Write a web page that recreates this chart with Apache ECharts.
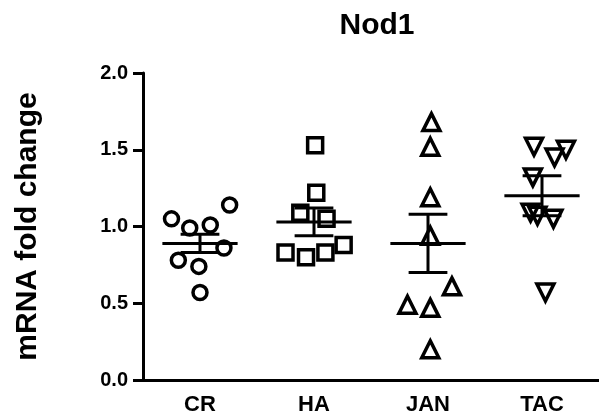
<!DOCTYPE html>
<html>
<head>
<meta charset="utf-8">
<script src="https://cdn.jsdelivr.net/npm/echarts@6/dist/echarts.min.js"></script>
<style>html,body{margin:0;padding:0;background:#fff}#c{width:599px;height:416px}</style>
</head>
<body>
<div id="c"></div>
<script>
var categories = ['CR', 'HA', 'JAN', 'TAC'];
var yTicks = [0.0, 0.5, 1.0, 1.5, 2.0];

var crValues  = [1.14, 1.05, 0.99, 1.01, 0.86, 0.78, 0.74, 0.57];
var crJitter  = [0.26, -0.25, -0.09, 0.09, 0.21, -0.19, -0.01, 0.00];
var haValues  = [1.53, 1.22, 1.09, 1.05, 0.83, 0.80, 0.83, 0.88];
var haJitter  = [0.01, 0.02, -0.12, 0.11, -0.25, -0.07, 0.10, 0.26];
var janValues = [1.68, 1.52, 1.19, 0.94, 0.61, 0.49, 0.47, 0.20];
var janJitter = [0.03, 0.02, 0.02, 0.02, 0.21, -0.18, 0.02, 0.02];
var tacValues = [1.52, 1.50, 1.45, 1.32, 1.09, 1.07, 1.05, 0.57];
var tacJitter = [-0.07, 0.21, 0.11, -0.08, -0.10, -0.04, 0.10, 0.03];

var means = [0.89, 1.03, 0.89, 1.20];
var sems  = [0.06, 0.09, 0.19, 0.13];

var FONT = '"Liberation Sans", Arial, sans-serif';

function pts(idx, vals, jit) {
  return vals.map(function (v, k) { return [idx + jit[k], v]; });
}

function scatter(idx, vals, jit, symbol, size, rotate) {
  return {
    type: 'scatter',
    xAxisIndex: 1,
    data: pts(idx, vals, jit),
    symbol: symbol,
    symbolSize: size,
    symbolRotate: rotate || 0,
    itemStyle: { color: 'rgba(255,255,255,0)', borderColor: '#000', borderWidth: 3.5, opacity: 1 },
    emphasis: { disabled: true },
    z: 3
  };
}

var chart = echarts.init(document.getElementById('c'), null, { renderer: 'canvas' });
chart.setOption({
  animation: false,
  backgroundColor: '#fff',
  title: {
    text: 'Nod1',
    left: 372,
    top: 6,
    textAlign: 'center',
    textStyle: { fontFamily: FONT, fontWeight: 'bold', fontSize: 30, color: '#000' }
  },
  grid: { left: 143, right: 0, top: 73, bottom: 36, containLabel: false },
  xAxis: [{
    type: 'category',
    data: categories,
    boundaryGap: true,
    axisLine: { onZero: false, lineStyle: { color: '#000', width: 3 } },
    axisTick: { show: false },
    axisLabel: { margin: 14, color: '#000', fontFamily: FONT, fontWeight: 'bold', fontSize: 22 },
    splitLine: { show: false }
  }, {
    type: 'value',
    min: -0.5, max: 3.5,
    show: false
  }],
  yAxis: {
    type: 'value',
    min: yTicks[0], max: yTicks[yTicks.length - 1], interval: 0.5,
    name: 'mRNA fold change',
    nameLocation: 'middle',
    nameGap: 100,
    nameTextStyle: { fontFamily: FONT, fontWeight: 'bold', fontSize: 30, color: '#000' },
    axisLine: { show: true, onZero: false, lineStyle: { color: '#000', width: 3 } },
    axisTick: { show: true, inside: false, length: 10, lineStyle: { color: '#000', width: 3 } },
    axisLabel: {
      margin: 15, color: '#000', fontFamily: FONT, fontWeight: 'bold', fontSize: 20,
      formatter: function (v) { return v.toFixed(1); }
    },
    splitLine: { show: false }
  },
  series: [
    scatter(0, crValues, crJitter, 'circle', 14),
    scatter(1, haValues, haJitter, 'rect', 15),
    scatter(2, janValues, janJitter, 'triangle', 17),
    scatter(3, tacValues, tacJitter, 'triangle', 17, 180),
    {
      type: 'custom',
      xAxisIndex: 1,
      data: means.map(function (m, i) { return [i, m, sems[i]]; }),
      renderItem: function (params, api) {
        var i = api.value(0), m = api.value(1), s = api.value(2);
        var style = { stroke: '#000', lineWidth: 3, fill: null };
        var a = api.coord([i - 0.33, m]), b = api.coord([i + 0.33, m]);
        var top = api.coord([i, m + s]), bot = api.coord([i, m - s]);
        var cl = api.coord([i - 0.17, m + s]), cr = api.coord([i + 0.17, m + s]);
        var dl = api.coord([i - 0.17, m - s]), dr = api.coord([i + 0.17, m - s]);
        return {
          type: 'group',
          children: [
            { type: 'line', shape: { x1: a[0], y1: a[1], x2: b[0], y2: b[1] }, style: style },
            { type: 'line', shape: { x1: top[0], y1: top[1], x2: bot[0], y2: bot[1] }, style: style },
            { type: 'line', shape: { x1: cl[0], y1: cl[1], x2: cr[0], y2: cr[1] }, style: style },
            { type: 'line', shape: { x1: dl[0], y1: dl[1], x2: dr[0], y2: dr[1] }, style: style }
          ]
        };
      },
      z: 2
    }
  ]
});
</script>
</body>
</html>
